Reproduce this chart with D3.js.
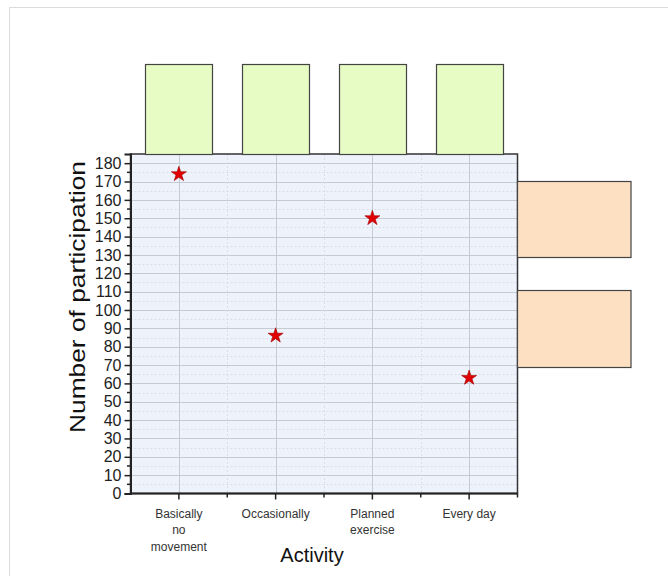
<!DOCTYPE html>
<html><head><meta charset="utf-8">
<script src="https://cdn.jsdelivr.net/npm/d3@7"></script>
<style>body{margin:0;background:#fff}svg{display:block;font-family:Arial,"Liberation Sans",sans-serif}</style>
</head><body>
<svg id="c" width="668" height="576"></svg>
<script>
const categories = ["Basically\nno\nmovement", "Occasionally", "Planned\nexercise", "Every day"];
const values = [174, 86, 150, 63];
const yTicks = d3.range(0, 181, 10);
const topCounts = [1, 1, 1, 1];
const rightBinStart = [129, 69];
const rightBinEnd = [170.5, 110.7];
const rightCounts = [2, 2];

const svg = d3.select("#c");
svg.append("rect").attr("x", 9.5).attr("y", 7.5).attr("width", 700).attr("height", 600)
  .attr("fill", "none").attr("stroke", "#dcdcdc");

const L = 130.5, R = 517.5, T = 154, B = 493.5;
const x = d3.scaleBand().domain(categories).range([L, R]);
const y = d3.scaleLinear().domain([0, 185]).range([B, T]);

const g = svg.append("g");
g.append("rect").attr("x", L).attr("y", T).attr("width", R - L).attr("height", B - T).attr("fill", "#eef2fb");

const minorY = d3.range(5, 185, 10);
g.selectAll(".hmin").data(minorY).join("line")
  .attr("x1", L).attr("x2", R).attr("y1", d => Math.round(y(d)) + 0.5).attr("y2", d => Math.round(y(d)) + 0.5)
  .attr("stroke", "#d9deea").attr("stroke-dasharray", "2,2");
g.selectAll(".hmaj").data(yTicks.filter(d => d > 0)).join("line")
  .attr("x1", L).attr("x2", R).attr("y1", d => Math.round(y(d)) + 0.5).attr("y2", d => Math.round(y(d)) + 0.5)
  .attr("stroke", "#c6cad3");
g.selectAll(".vmin").data(categories.slice(1)).join("line")
  .attr("x1", d => Math.round(x(d)) + 0.5).attr("x2", d => Math.round(x(d)) + 0.5).attr("y1", T).attr("y2", B)
  .attr("stroke", "#d9deea").attr("stroke-dasharray", "2,2");
g.selectAll(".vmaj").data(categories).join("line")
  .attr("x1", d => Math.round(x(d) + x.bandwidth() / 2) + 0.5).attr("x2", d => Math.round(x(d) + x.bandwidth() / 2) + 0.5)
  .attr("y1", T).attr("y2", B).attr("stroke", "#c6cad3");

g.append("rect").attr("x", L).attr("y", T).attr("width", R - L).attr("height", B - T)
  .attr("fill", "none").attr("stroke", "#333").attr("stroke-width", 1.5);

const yAxis = d3.axisLeft(y).tickValues(yTicks).tickSize(6).tickPadding(3);
const ya = svg.append("g").attr("transform", `translate(${L},0)`).call(yAxis);
ya.select(".domain").attr("stroke", "#222").attr("stroke-width", 2);
ya.selectAll(".tick line").attr("stroke", "#222").attr("stroke-width", 1.5);
ya.selectAll(".tick text").attr("font-size", 16).attr("fill", "#222").attr("font-family", "Arial, 'Liberation Sans', sans-serif");
svg.selectAll(".ymt").data(minorY).join("line")
  .attr("x1", L - 3.5).attr("x2", L).attr("y1", d => y(d)).attr("y2", d => y(d))
  .attr("stroke", "#222").attr("stroke-width", 1.5);

const xa = svg.append("g").attr("transform", `translate(0,${B})`);
xa.append("line").attr("x1", L).attr("x2", R).attr("stroke", "#222").attr("stroke-width", 2);
xa.selectAll(".xt").data(categories).join("line")
  .attr("x1", d => x(d) + x.bandwidth() / 2).attr("x2", d => x(d) + x.bandwidth() / 2).attr("y1", 0).attr("y2", 6)
  .attr("stroke", "#222").attr("stroke-width", 1.5);
xa.selectAll(".xm").data(categories.slice(1).concat(["_end"])).join("line")
  .attr("x1", d => d === "_end" ? R : x(d)).attr("x2", d => d === "_end" ? R : x(d)).attr("y1", 0).attr("y2", 4)
  .attr("stroke", "#222").attr("stroke-width", 1.5);
xa.selectAll(".xl").data(categories).join("text")
  .attr("x", d => x(d) + x.bandwidth() / 2).attr("y", 24)
  .attr("text-anchor", "middle").attr("font-size", 12).attr("fill", "#333")
  .each(function(d) {
    const t = d3.select(this);
    d.split("\n").forEach((s, i) => t.append("tspan").attr("x", x(d) + x.bandwidth() / 2).attr("dy", i ? 16.5 : 0).text(s));
  });

svg.append("text").attr("x", 312).attr("y", 562).attr("text-anchor", "middle")
  .attr("font-size", 20).attr("fill", "#111").text("Activity");
svg.append("text").attr("transform", `translate(85,297) rotate(-90)`).attr("text-anchor", "middle")
  .attr("font-size", 22).attr("fill", "#111")
  .attr("textLength", 272).attr("lengthAdjust", "spacingAndGlyphs")
  .text("Number of participation");

const xb = d3.scaleBand().domain(categories).range([L, R]).paddingInner(0.31).paddingOuter(0.155);
const hTop = d3.scaleLinear().domain([0, 1]).range([T, 64]);
svg.selectAll(".tb").data(categories).join("rect")
  .attr("x", d => Math.round(xb(d)) + 0.5).attr("width", Math.round(xb.bandwidth()))
  .attr("y", (d, i) => hTop(topCounts[i]) + 0.5).attr("height", (d, i) => T - hTop(topCounts[i]))
  .attr("fill", "#e6fcc4").attr("stroke", "#444").attr("stroke-width", 1.2);

const wR = d3.scaleLinear().domain([0, 2]).range([R, 631]);
svg.selectAll(".rb").data(rightCounts).join("rect")
  .attr("x", R).attr("width", d => wR(d) - R)
  .attr("y", (d, i) => Math.round(y(rightBinEnd[i])) + 0.5)
  .attr("height", (d, i) => Math.round(y(rightBinStart[i]) - y(rightBinEnd[i])))
  .attr("fill", "#fde0c2").attr("stroke", "#444").attr("stroke-width", 1.2);

const star = d3.symbol().type(d3.symbolStar).size(70);
svg.selectAll(".pt").data(values).join("path")
  .attr("d", star)
  .attr("transform", (d, i) => `translate(${x(categories[i]) + x.bandwidth() / 2},${y(d)})`)
  .attr("fill", "#e00000").attr("stroke", "#a00000").attr("stroke-width", 0.6);
</script>
</body></html>
